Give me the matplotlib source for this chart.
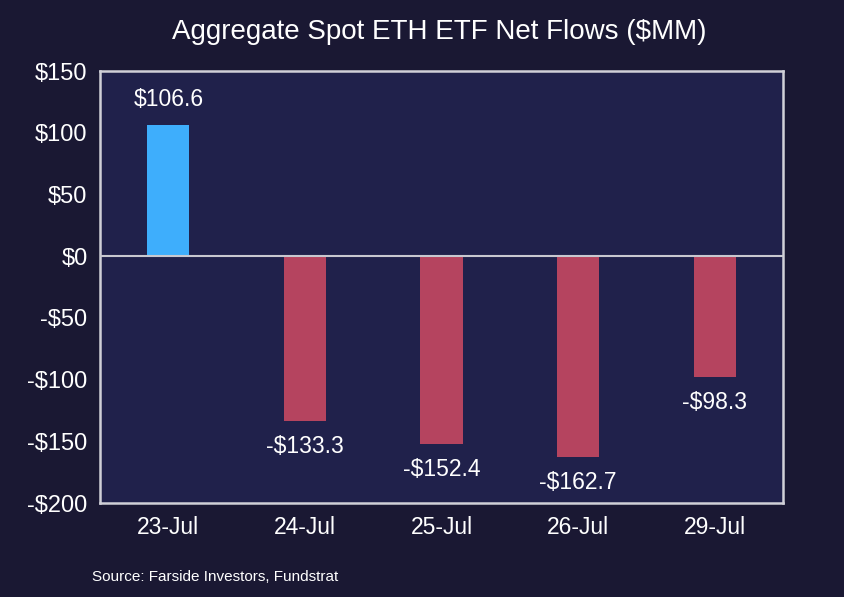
import matplotlib.pyplot as plt

plt.rcParams['font.family'] = ['Liberation Sans', 'DejaVu Sans']

# data
dates = ['23-Jul', '24-Jul', '25-Jul', '26-Jul', '29-Jul']
flows = [106.6, -133.3, -152.4, -162.7, -98.3]
yticks = [150, 100, 50, 0, -50, -100, -150, -200]

bg = '#1a1833'
face = '#20214b'
blue = '#3eaefc'
red = '#b5445f'

fig = plt.figure(figsize=(8.45, 5.97), dpi=100, facecolor=bg)
ax = fig.add_axes([100/845, 1 - 503/597, 683/845, 432/597])
ax.set_facecolor(face)

x = range(len(dates))
colors = [blue if v >= 0 else red for v in flows]
ax.bar(x, flows, width=0.31, color=colors, zorder=2)
ax.axhline(0, color='#c8c8d0', lw=1.5, zorder=3)

for i, v in zip(x, flows):
    txt = ('$%.1f' % v) if v >= 0 else ('-$%.1f' % -v)
    off = 10 if v >= 0 else -10
    ax.annotate(txt, (i, v), xytext=(0, off), textcoords='offset points',
                ha='center', va='bottom' if v >= 0 else 'top',
                color='white', fontsize=16.5)

ax.set_xlim(-0.5, 4.5)
ax.set_ylim(-200, 150)
ax.set_xticks(list(x))
ax.set_xticklabels(dates)
ax.set_yticks(yticks)
ax.set_yticklabels([('$%d' % t) if t >= 0 else ('-$%d' % -t) for t in yticks])
ax.tick_params(axis='y', length=0, colors='white', labelsize=17, pad=9)
ax.tick_params(axis='x', length=0, colors='white', labelsize=16.5, pad=9)
for s in ax.spines.values():
    s.set_color('#d0d0d8')
    s.set_linewidth(1.8)

fig.text(0.52, 1 - 32/597, 'Aggregate Spot ETH ETF Net Flows ($MM)', ha='center',
         va='center', color='white', fontsize=20)
fig.text(92/845, 1 - 577/597, 'Source: Farside Investors, Fundstrat', ha='left',
         va='center', color='white', fontsize=11)

fig.savefig('out.png', dpi=100, facecolor=bg)
